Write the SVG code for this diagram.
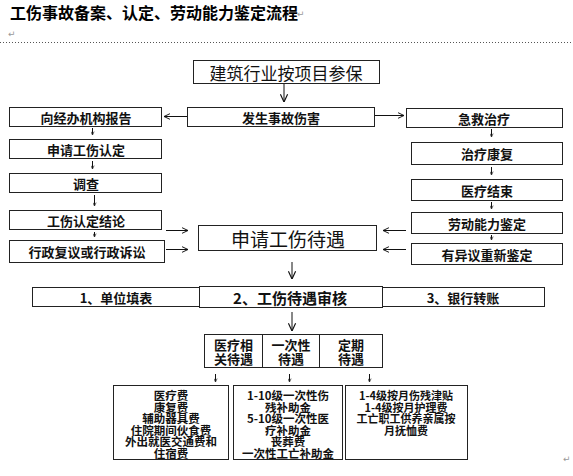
<svg xmlns="http://www.w3.org/2000/svg" width="573" height="476" viewBox="0 0 573 476">
<style>
  .bx{fill:#fff;stroke:#222;stroke-width:1}
  .t{font-family:"Noto Sans CJK SC","Liberation Sans",sans-serif;fill:#111;text-anchor:middle;dominant-baseline:central}
  .b{font-weight:bold}
  .ln{stroke:#111;stroke-width:1;fill:none}
  .mk{font-family:"DejaVu Sans",sans-serif;fill:#999;font-size:9px}
</style>
<defs>
  <marker id="big" viewBox="0 0 10 10" refX="9.5" refY="5" markerWidth="9" markerHeight="9" markerUnits="userSpaceOnUse" orient="auto"><path d="M1,1 L9.5,5 L1,9" fill="none" stroke="#111" stroke-width="1.3"/></marker>
  <marker id="mid" viewBox="0 0 10 10" refX="9.5" refY="5" markerWidth="7" markerHeight="7" markerUnits="userSpaceOnUse" orient="auto"><path d="M1,1 L9.5,5 L1,9" fill="none" stroke="#111" stroke-width="1.4"/></marker>
  <marker id="sm" viewBox="0 0 10 10" refX="9.5" refY="5" markerWidth="4" markerHeight="4" markerUnits="userSpaceOnUse" orient="auto"><path d="M1,1 L9.5,5 L1,9" fill="none" stroke="#333" stroke-width="2"/></marker>
</defs>

<text x="10" y="19" font-family="Noto Sans CJK SC, sans-serif" font-weight="bold" font-size="16" fill="#000">工伤事故备案、认定、劳动能力鉴定流程</text>
<text class="mk" x="297" y="17">↵</text>
<text class="mk" x="8" y="37">↵</text>
<line x1="0" y1="42.5" x2="573" y2="42.5" stroke="#555" stroke-width="1" stroke-dasharray="1,2"/>
<text class="mk" x="563" y="462">↵</text>

<g id="n-canbao"><rect class="bx" x="193.5" y="60.5" width="186" height="23"/><text class="t" x="286" y="72" font-size="17">建筑行业按项目参保</text></g>
<g id="n-shigu"><rect class="bx" x="187.5" y="107.5" width="187" height="19"/><text class="t b" x="281" y="117" font-size="13">发生事故伤害</text></g>

<g id="n-baogao"><rect class="bx" x="9.5" y="107.5" width="152" height="19"/><text class="t b" x="86" y="117" font-size="13">向经办机构报告</text></g>
<g id="n-rending"><rect class="bx" x="9.5" y="139.5" width="152" height="19"/><text class="t b" x="86" y="149" font-size="13">申请工伤认定</text></g>
<g id="n-diaocha"><rect class="bx" x="9.5" y="173.5" width="152" height="19"/><text class="t b" x="86" y="183" font-size="13">调查</text></g>
<g id="n-jielun"><rect class="bx" x="9.5" y="210.5" width="152" height="19"/><text class="t b" x="86" y="220" font-size="13">工伤认定结论</text></g>
<g id="n-fuyi"><rect class="bx" x="9.5" y="240.5" width="155" height="22"/><text class="t b" x="87" y="251.5" font-size="13">行政复议或行政诉讼</text></g>

<g id="n-jijiu"><rect class="bx" x="406.5" y="108.5" width="156" height="19"/><text class="t b" x="484" y="118" font-size="13">急救治疗</text></g>
<g id="n-kangfu"><rect class="bx" x="411.5" y="142.5" width="151" height="22"/><text class="t b" x="487" y="153.5" font-size="13">治疗康复</text></g>
<g id="n-jieshu"><rect class="bx" x="411.5" y="179.5" width="151" height="21"/><text class="t b" x="487" y="190" font-size="13">医疗结束</text></g>
<g id="n-jianding"><rect class="bx" x="411.5" y="212.5" width="151" height="21"/><text class="t b" x="487" y="223" font-size="13">劳动能力鉴定</text></g>
<g id="n-chongxin"><rect class="bx" x="411.5" y="243.5" width="151" height="21"/><text class="t b" x="487" y="254" font-size="13">有异议重新鉴定</text></g>

<g id="n-daiyu"><rect class="bx" x="198.5" y="225.5" width="178" height="25"/><text class="t" x="288" y="238" font-size="19">申请工伤待遇</text></g>

<g id="n-tianbiao"><rect class="bx" x="32.5" y="287.5" width="167" height="19"/><text class="t b" x="116" y="297" font-size="13">1、单位填表</text></g>
<g id="n-shenhe"><rect class="bx" x="199.5" y="286.5" width="183" height="21"/><text class="t" x="290" y="297" font-size="15" font-weight="600">2、工伤待遇审核</text></g>
<g id="n-zhuanzhang"><rect class="bx" x="382.5" y="287.5" width="162" height="19"/><text class="t b" x="463" y="297" font-size="13">3、银行转账</text></g>

<g id="n-yiliao"><rect class="bx" x="204.5" y="334.5" width="58" height="33"/><text class="t" x="233.5" y="344" font-size="13" font-weight="600">医疗相</text><text class="t" x="233.5" y="358.5" font-size="13" font-weight="600">关待遇</text></g>
<g id="n-yicixing"><rect class="bx" x="262.5" y="334.5" width="57" height="33"/><text class="t" x="291" y="344" font-size="13" font-weight="600">一次性</text><text class="t" x="291" y="358.5" font-size="13" font-weight="600">待遇</text></g>
<g id="n-dingqi"><rect class="bx" x="319.5" y="334.5" width="63" height="33"/><text class="t" x="351" y="344" font-size="13" font-weight="600">定期</text><text class="t" x="351" y="358.5" font-size="13" font-weight="600">待遇</text></g>

<g id="n-feiyong1"><rect class="bx" x="113.5" y="385.5" width="115" height="74"/>
  <g class="t b" font-size="11.5">
    <text x="171" y="395">医疗费</text><text x="171" y="406.5">康复费</text><text x="171" y="418">辅助器具费</text><text x="171" y="429.5">住院期间伙食费</text><text x="171" y="441">外出就医交通费和</text><text x="171" y="452.5">住宿费</text>
  </g></g>
<g id="n-feiyong2"><rect class="bx" x="233.5" y="385.5" width="109" height="74"/>
  <g class="t b" font-size="11.5">
    <text x="288" y="395">1-10级一次性伤</text><text x="288" y="406.5">残补助金</text><text x="288" y="418">5-10级一次性医</text><text x="288" y="429.5">疗补助金</text><text x="288" y="441">丧葬费</text><text x="288" y="452.5">一次性工亡补助金</text>
  </g></g>
<g id="n-feiyong3"><rect class="bx" x="345.5" y="385.5" width="122" height="74"/>
  <g class="t b" font-size="11">
    <text x="406" y="395">1-4级按月伤残津贴</text><text x="406" y="406.5">1-4级按月护理费</text><text x="406" y="418">工亡职工供养亲属按</text><text x="406" y="429.5">月抚恤费</text>
  </g></g>

<g id="connectors">
  <line class="ln" x1="284" y1="84" x2="284" y2="102" marker-end="url(#big)"/>
  <line class="ln" x1="187" y1="116.5" x2="164" y2="116.5" marker-end="url(#mid)"/>
  <line class="ln" x1="375" y1="115.5" x2="404" y2="115.5" marker-end="url(#mid)"/>
  <line class="ln" x1="92.5" y1="128" x2="92.5" y2="135" marker-end="url(#sm)"/>
  <line class="ln" x1="92.5" y1="161" x2="92.5" y2="169" marker-end="url(#sm)"/>
  <line class="ln" x1="94.5" y1="195" x2="94.5" y2="206" marker-end="url(#sm)"/>
  <line class="ln" x1="94.5" y1="232" x2="94.5" y2="237" marker-end="url(#sm)"/>
  <line class="ln" x1="491.5" y1="129" x2="491.5" y2="137" marker-end="url(#sm)"/>
  <line class="ln" x1="491.5" y1="167" x2="491.5" y2="175" marker-end="url(#sm)"/>
  <line class="ln" x1="491.5" y1="202" x2="491.5" y2="209" marker-end="url(#sm)"/>
  <line class="ln" x1="491.5" y1="235" x2="491.5" y2="240" marker-end="url(#sm)"/>
  <line class="ln" x1="166" y1="230.5" x2="188" y2="230.5" marker-end="url(#mid)"/>
  <line class="ln" x1="166" y1="249.5" x2="188" y2="249.5" marker-end="url(#mid)"/>
  <line class="ln" x1="406" y1="230.5" x2="383" y2="230.5" marker-end="url(#mid)"/>
  <line class="ln" x1="406" y1="249.5" x2="383" y2="249.5" marker-end="url(#mid)"/>
  <line class="ln" x1="292" y1="262" x2="292" y2="279" marker-end="url(#big)"/>
  <line class="ln" x1="292" y1="312" x2="292" y2="331" marker-end="url(#big)"/>
  <line class="ln" x1="215.5" y1="374" x2="215.5" y2="382" marker-end="url(#sm)"/>
  <line class="ln" x1="289.5" y1="374" x2="289.5" y2="382" marker-end="url(#sm)"/>
  <line class="ln" x1="369.5" y1="374" x2="369.5" y2="382" marker-end="url(#sm)"/>
</g>
</svg>
